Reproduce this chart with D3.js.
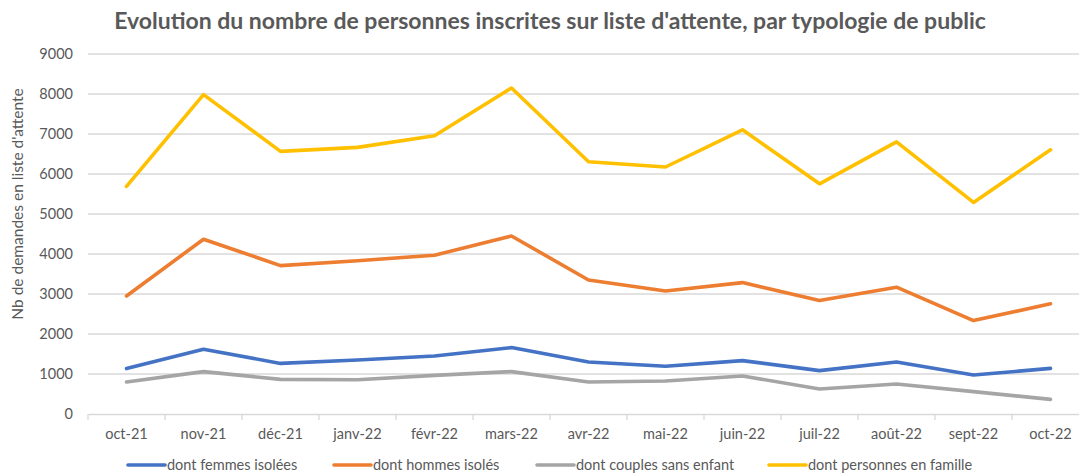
<!DOCTYPE html>
<html>
<head>
<meta charset="utf-8">
<script src="https://cdn.jsdelivr.net/npm/d3@7"></script>
<style>
  body { margin: 0; background: #fff; }
  svg { display: block; font-family: Lato, "Open Sans", sans-serif; }
</style>
</head>
<body>
<svg id="chart"></svg>
<script>
const months = ["oct-21", "nov-21", "déc-21", "janv-22", "févr-22", "mars-22", "avr-22",
  "mai-22", "juin-22", "juil-22", "août-22", "sept-22", "oct-22"];

const femmesIsolees = [1135, 1620, 1265, 1350, 1450, 1660, 1300, 1195, 1335, 1085, 1300, 975, 1140];
const hommesIsoles = [2950, 4370, 3710, 3830, 3970, 4450, 3350, 3075, 3285, 2835, 3170, 2335, 2755];
const couplesSansEnfant = [800, 1060, 865, 855, 965, 1060, 800, 825, 950, 625, 750, 560, 365];
const personnesEnFamille = [5690, 7985, 6565, 6665, 6955, 8150, 6305, 6175, 7105, 5755, 6805, 5290, 6605];

const yTicks = [0, 1000, 2000, 3000, 4000, 5000, 6000, 7000, 8000, 9000];

const series = [
  { name: "dont femmes isolées", values: femmesIsolees, color: "#4472C4" },
  { name: "dont hommes isolés", values: hommesIsoles, color: "#ED7D31" },
  { name: "dont couples sans enfant", values: couplesSansEnfant, color: "#A5A5A5" },
  { name: "dont personnes en famille", values: personnesEnFamille, color: "#FFC000" }
];

const width = 1079, height = 473;
const margin = { top: 54, left: 88, bottom: 414 };
const band = 77;
const textColor = "#595959";
const fontSize = 14.5;

const svg = d3.select("#chart")
  .attr("width", width)
  .attr("height", height);

const x = d3.scaleBand()
  .domain(months)
  .range([margin.left, margin.left + band * months.length]);

const y = d3.scaleLinear()
  .domain([0, 9000])
  .range([margin.bottom, margin.top]);

// gridlines
svg.append("g")
  .selectAll("line")
  .data(yTicks.slice(1))
  .join("line")
  .attr("x1", margin.left)
  .attr("x2", width)
  .attr("y1", d => y(d))
  .attr("y2", d => y(d))
  .attr("stroke", "#d9d9d9")
  .attr("stroke-width", 1.3);

// y axis labels
const yAxis = svg.append("g")
  .attr("transform", `translate(${margin.left},0)`)
  .call(d3.axisLeft(y).tickValues(yTicks).tickFormat(d3.format("d")).tickSize(0).tickPadding(15));
yAxis.select(".domain").remove();
yAxis.selectAll("text")
  .attr("font-family", "Lato, sans-serif")
  .attr("font-size", fontSize)
  .attr("fill", textColor);

// x axis
const xAxis = svg.append("g")
  .attr("transform", `translate(0,${margin.bottom})`)
  .call(d3.axisBottom(x).tickSize(0).tickPadding(15));
xAxis.select(".domain")
  .attr("stroke", "#d9d9d9")
  .attr("stroke-width", 1.3);
xAxis.selectAll("text")
  .attr("font-family", "Lato, sans-serif")
  .attr("font-size", fontSize)
  .attr("fill", textColor);
xAxis.append("g")
  .selectAll("line")
  .data(d3.range(months.length + 1))
  .join("line")
  .attr("x1", i => margin.left + i * x.step())
  .attr("x2", i => margin.left + i * x.step())
  .attr("y1", 0)
  .attr("y2", 6)
  .attr("stroke", "#d9d9d9")
  .attr("stroke-width", 1.3);

// lines
const line = d3.line()
  .x((d, i) => x(months[i]) + x.bandwidth() / 2)
  .y(d => y(d));

svg.append("g")
  .selectAll("path")
  .data(series)
  .join("path")
  .attr("fill", "none")
  .attr("stroke", d => d.color)
  .attr("stroke-width", 3.6)
  .attr("stroke-linejoin", "round")
  .attr("stroke-linecap", "round")
  .attr("d", d => line(d.values));

// title
svg.append("text")
  .attr("x", 550)
  .attr("y", 29)
  .attr("text-anchor", "middle")
  .attr("font-family", "Lato, sans-serif")
  .attr("font-weight", "bold")
  .attr("font-size", 23)
  .attr("fill", textColor)
  .text("Evolution du nombre de personnes inscrites sur liste d'attente, par typologie de public");

// y axis title
svg.append("text")
  .attr("transform", "translate(23,204) rotate(-90)")
  .attr("text-anchor", "middle")
  .attr("font-family", "Lato, sans-serif")
  .attr("font-size", 15.5)
  .attr("fill", textColor)
  .text("Nb de demandes en liste d'attente");

// legend
const legendX = [128, 334, 537, 769];
const legend = svg.append("g")
  .selectAll("g")
  .data(series)
  .join("g")
  .attr("transform", (d, i) => `translate(${legendX[i]},465)`);
legend.append("line")
  .attr("x1", 0).attr("x2", 37)
  .attr("y1", 0).attr("y2", 0)
  .attr("stroke", d => d.color)
  .attr("stroke-width", 3.6)
  .attr("stroke-linecap", "round");
legend.append("text")
  .attr("x", 39)
  .attr("y", 0)
  .attr("dy", "0.35em")
  .attr("font-family", "Lato, sans-serif")
  .attr("font-size", fontSize)
  .attr("fill", textColor)
  .text(d => d.name);
</script>
</body>
</html>
